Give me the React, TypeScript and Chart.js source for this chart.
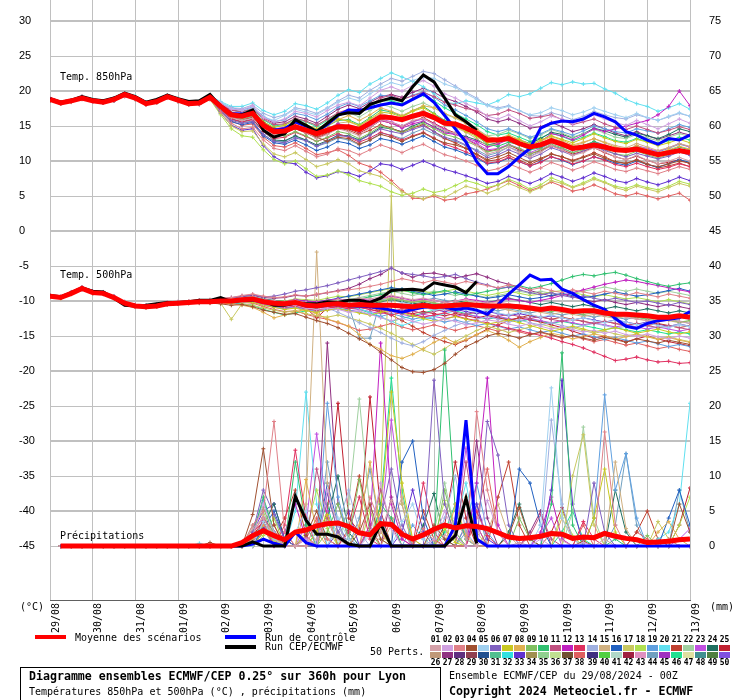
import React, { useEffect, useRef } from 'react';
import { Chart, registerables } from 'chart.js';

Chart.register(...registerables);

const DATE_LABELS = ['29/08','30/08','31/08','01/09','02/09','03/09','04/09','05/09','06/09','07/09','08/09','09/09','10/09','11/09','12/09','13/09'];
const T_TICKS = [30,25,20,15,10,5,0,-5,-10,-15,-20,-25,-30,-35,-40,-45];
const MM_TICKS = [75,70,65,60,55,50,45,40,35,30,25,20,15,10,5,0];
const STEP_HOURS = 6;

const MEMBER_COLORS = ['#d4a0a8','#d0a0e0','#e08088','#a05030','#a0d0f0','#8060c0','#c8c820','#e0b050','#80c060','#30c070','#c05080','#c020c0','#e03060','#a0b0e0','#d0b080','#2060c0','#c8c860','#b0e050','#60a0e0','#60e0f0','#c04030','#a0d0a0','#c050e0','#207060','#c02030',
'#c09878','#903080','#603080','#904050','#205090','#50c090','#30e0e0','#6030d0','#a09050','#90d090','#c0e090','#705030','#e06060','#403080','#50d040','#b0d8c8','#a02040','#e090c0','#70a0c0','#a030c0','#20e090','#e0e0a0','#409090','#508040','#8050e0'];

const MEMBER_IDS = [1,2,3,4,5,6,7,8,9,10,11,12,13,14,15,16,17,18,19,20,21,22,23,24,25,33,38,27,44,46];

const T850_MEAN = [18.8,18.3,18.6,19.0,18.6,18.4,18.8,19.5,19.0,18.2,18.5,19.2,18.7,18.2,18.3,19.1,17.8,16.6,16.4,16.8,15.1,14.2,14.3,14.9,14.4,13.9,14.4,14.9,14.9,14.5,15.4,16.3,16.2,15.9,16.4,16.8,16.2,15.4,15.3,14.7,14.0,13.0,13.0,13.2,12.5,12.0,12.3,12.9,12.4,11.8,12.0,12.3,12.0,11.6,11.5,11.7,11.3,10.9,11.2,11.5,11.2];
const T850_CTRL = [18.9,18.3,18.6,19.1,18.7,18.5,18.9,19.6,19.1,18.3,18.6,19.3,18.8,18.3,18.4,19.3,17.9,16.8,16.7,17.0,15.0,14.4,14.6,15.6,15.0,14.2,15.2,16.5,17.3,17.2,17.6,18.0,18.3,18.0,18.8,19.6,18.4,16.5,14.6,12.7,9.9,8.2,8.2,9.2,10.6,11.8,14.7,15.4,15.7,15.6,16.0,16.8,16.3,15.6,14.2,13.7,13.0,12.4,13.2,13.0,13.7];
const T850_CEP = [18.9,18.4,18.7,19.2,18.8,18.6,19.0,19.7,19.2,18.4,18.8,19.4,18.9,18.5,18.6,19.5,17.8,16.6,16.6,17.3,14.4,13.4,13.9,15.9,15.1,14.2,15.4,16.6,16.9,16.8,18.1,18.6,19.0,18.6,20.6,22.3,21.3,19.0,16.6,15.6,14.4];

const T500_MEAN = [-9.3,-9.5,-8.9,-8.2,-8.8,-8.9,-9.5,-10.3,-10.7,-10.8,-10.7,-10.4,-10.3,-10.2,-10.1,-10.1,-10.0,-10.0,-9.8,-9.7,-10.1,-10.3,-10.4,-10.2,-10.6,-10.7,-10.5,-10.4,-10.6,-10.5,-10.6,-10.6,-10.6,-10.7,-10.8,-10.6,-10.8,-10.7,-10.6,-10.5,-10.6,-10.7,-10.7,-10.7,-10.8,-11.0,-11.2,-11.0,-11.2,-11.5,-11.4,-11.4,-11.7,-11.9,-11.9,-12.0,-12.1,-12.3,-12.3,-12.1,-12.3];
const T500_CTRL = [-9.3,-9.5,-8.9,-8.2,-8.8,-8.9,-9.5,-10.3,-10.7,-10.8,-10.7,-10.4,-10.3,-10.2,-10.1,-10.1,-10.0,-10.0,-9.8,-9.8,-10.2,-10.4,-10.5,-10.3,-10.7,-10.8,-10.6,-10.5,-10.7,-10.7,-10.8,-11.0,-11.3,-11.6,-11.2,-10.9,-10.7,-10.9,-11.2,-11.0,-11.3,-11.9,-10.5,-9.0,-7.7,-6.3,-7.0,-6.9,-8.3,-8.9,-9.8,-10.6,-11.2,-12.5,-13.6,-13.9,-13.2,-12.8,-12.6,-12.4,-11.5];
const T500_CEP = [-9.2,-9.4,-8.8,-8.1,-8.6,-8.7,-9.6,-10.6,-10.7,-10.6,-10.4,-10.2,-10.2,-10.1,-9.9,-9.9,-9.5,-10.1,-9.9,-9.8,-10.0,-10.6,-10.6,-10.3,-10.4,-10.4,-10.1,-10.2,-9.9,-9.9,-10.2,-9.6,-8.5,-8.4,-8.3,-8.5,-7.4,-7.7,-8.0,-8.8,-7.2];

const PRECIP_MEAN = [null,0,0,0,0,0,0,0,0,0,0,0,0,0,0,0,0,0,0.5,1.5,2.2,1.5,0.9,2.0,2.3,2.9,3.2,3.3,2.8,1.9,1.6,3.2,3.1,1.7,1.0,1.6,2.4,3.0,2.6,2.9,2.8,2.5,1.9,1.3,1.1,1.2,1.4,1.8,1.7,1.1,1.3,1.2,1.8,1.4,1.1,0.9,0.5,0.6,0.7,0.9,1.0];
const PRECIP_CTRL = [null,0,0,0,0,0,0,0,0,0,0,0,0,0,0,0,0,0,0,0.3,1.0,0.4,0,2.0,0.5,0,0,0,0,0,0,0,0,0,0,0,0,0,3.0,18.0,1.0,0,0,0,0,0,0,0,0,0,0,0,0,0,0,0,0,0,0,0,0];
const PRECIP_CEP = [null,0,0,0,0,0,0,0,0,0,0,0,0,0,0,0,0,0,0,0.6,0,0,0,7.1,3.7,1.7,1.7,1.3,0.3,0,0,3.2,0,0,0,0,0,0,1.5,6.8,0.4];

const T850_MEMBERS = [
[19.0,18.4,18.7,19.2,18.7,18.5,18.9,19.7,19.1,18.3,18.6,19.4,18.8,18.3,18.5,19.3,17.6,16.2,15.8,16.1,14.6,13.8,14.0,14.9,14.1,13.2,13.8,14.6,14.2,13.6,14.8,15.9,15.5,15.0,15.8,16.1,15.2,14.3,14.0,13.1,12.2,11.0,11.4,12.0,11.2,10.6,11.3,12.2,11.6,10.8,11.2,11.9,11.3,10.6,10.2,10.8,10.1,9.6,10.0,10.5,10.0],
[18.7,18.2,18.6,19.1,18.5,18.4,18.7,19.4,18.9,18.1,18.4,19.0,18.6,18.1,18.2,19.0,18.2,17.4,17.3,17.9,16.2,15.6,16.0,17.1,16.8,16.3,17.2,18.0,18.4,17.9,19.0,20.1,20.6,20.0,20.8,21.5,20.7,19.6,19.0,18.2,17.5,16.4,16.0,16.6,15.8,15.0,15.6,16.4,16.0,15.3,15.9,16.6,16.0,15.5,15.1,15.8,15.2,14.6,15.3,16.0,15.4],
[18.9,18.3,18.4,18.8,18.5,18.3,18.6,19.2,18.8,18.0,18.3,19.0,18.5,18.1,18.2,18.8,17.0,15.4,14.6,14.8,13.0,11.8,11.5,12.2,11.4,10.6,11.0,11.8,11.5,10.9,11.6,12.3,11.8,11.2,11.9,12.4,11.6,10.9,10.5,10.0,9.4,8.6,8.9,9.6,9.0,8.4,9.0,9.8,9.3,8.7,9.2,9.9,9.4,8.8,8.5,9.0,8.6,8.2,8.7,9.2,8.8],
[18.6,18.2,18.5,18.9,18.6,18.3,18.7,19.4,19.0,18.3,18.5,19.1,18.6,18.2,18.2,19.0,17.5,16.6,16.5,17.0,15.5,14.6,14.2,14.8,14.3,13.4,12.8,13.4,13.2,12.4,13.0,13.8,13.4,12.8,13.5,14.0,13.2,12.6,12.3,11.8,11.0,10.2,10.6,11.2,10.5,9.8,10.4,11.0,10.6,10.0,10.5,11.0,10.4,9.9,9.7,10.1,9.5,9.2,9.6,10.0,9.7],
[18.9,18.4,18.7,19.1,18.8,18.5,18.9,19.6,19.2,18.4,18.7,19.3,18.9,18.4,18.5,19.2,18.4,17.5,17.2,17.6,16.3,15.8,16.5,17.4,17.0,16.6,17.5,18.4,19.0,18.6,19.6,20.5,21.2,20.8,21.5,22.0,21.8,21.0,20.5,19.6,18.8,17.9,17.4,17.8,17.2,16.6,16.9,17.6,17.2,16.6,17.0,17.6,17.1,16.6,16.2,16.8,16.2,15.8,16.4,16.9,16.4],
[18.7,18.3,18.6,18.9,18.5,18.3,18.6,19.3,18.9,18.2,18.4,19.1,18.6,18.1,18.1,18.9,17.2,15.8,15.4,15.6,13.8,12.8,12.6,13.3,12.9,12.1,12.8,13.6,13.5,12.9,13.7,14.6,14.2,13.9,14.5,15.0,14.2,13.4,13.0,12.3,11.4,10.5,10.9,11.6,11.0,10.4,11.0,11.9,11.4,10.8,11.4,12.1,11.5,11.0,10.6,11.1,10.7,10.3,10.7,11.3,10.8],
[18.8,18.2,18.5,18.9,18.6,18.4,18.7,19.5,18.9,18.2,18.4,19.2,18.7,18.2,18.3,19.0,17.8,16.9,16.7,17.2,15.6,14.8,15.1,15.8,15.2,14.6,15.4,16.0,15.7,15.1,16.0,17.0,16.8,16.3,17.1,17.6,16.7,15.6,15.0,14.2,13.5,12.6,12.9,13.5,13.0,12.3,13.0,13.6,13.1,12.6,13.2,13.9,13.3,12.8,12.5,13.1,12.7,12.2,12.6,13.1,12.6],
[18.9,18.3,18.7,19.1,18.7,18.5,18.8,19.6,19.1,18.2,18.6,19.3,18.8,18.3,18.4,19.2,18.0,16.8,16.4,16.7,14.8,14.2,14.5,15.4,14.9,14.2,15.0,15.9,16.5,15.8,16.6,17.6,17.1,16.5,17.2,17.9,17.6,16.8,16.2,15.4,14.5,13.5,13.2,13.7,13.1,12.4,12.8,13.5,13.0,12.3,12.7,13.2,12.6,12.0,11.6,12.2,11.6,11.1,11.6,12.1,11.7],
[18.8,18.4,18.6,19.0,18.6,18.4,18.8,19.4,19.0,18.3,18.5,19.2,18.7,18.2,18.3,19.0,17.6,16.4,16.0,16.4,14.9,13.9,13.6,14.2,13.6,12.8,13.4,14.2,13.9,13.2,14.0,15.0,14.6,14.0,14.8,15.4,14.6,13.8,13.4,12.8,12.2,11.3,11.6,12.3,11.8,11.0,11.6,12.4,11.9,11.2,11.6,12.2,11.7,11.0,10.8,11.4,10.9,10.4,10.9,11.4,11.0],
[18.7,18.3,18.6,19.0,18.7,18.4,18.8,19.5,19.0,18.2,18.5,19.1,18.7,18.2,18.3,19.1,17.9,16.5,16.3,16.9,15.2,14.3,14.6,15.5,15.0,14.3,15.0,15.8,15.9,15.2,16.2,17.3,17.0,16.4,17.2,17.8,16.8,15.8,15.4,14.6,13.6,12.4,12.1,12.7,12.3,11.6,11.9,12.7,12.3,11.7,12.2,12.8,12.2,11.6,11.4,12.0,11.4,11.0,11.5,12.0,11.6],
[18.8,18.3,18.6,18.9,18.6,18.4,18.7,19.4,19.0,18.2,18.5,19.2,18.8,18.2,18.3,19.1,18.2,17.3,17.0,17.5,16.0,15.2,15.3,16.1,15.7,15.1,16.0,16.9,17.4,16.9,17.9,19.0,19.4,18.8,19.3,19.8,19.2,18.4,18.0,17.5,17.2,16.5,16.7,17.3,16.8,16.1,16.3,16.6,15.9,15.2,15.6,16.0,15.3,14.8,14.5,15.0,14.5,14.0,14.4,14.9,14.5],
[18.9,18.4,18.7,19.2,18.7,18.5,18.9,19.6,19.1,18.3,18.6,19.3,18.8,18.3,18.4,19.2,18.0,16.7,16.6,17.0,15.4,14.6,14.8,15.5,14.9,14.1,14.5,15.3,15.0,14.3,15.0,15.8,15.4,14.7,15.3,15.7,14.8,14.0,13.8,13.3,12.8,12.0,12.4,13.1,12.6,12.0,12.8,13.9,13.6,13.0,13.7,14.6,14.2,14.6,15.0,15.4,15.8,16.6,17.8,20.0,17.9],
[18.7,18.2,18.5,18.9,18.5,18.3,18.7,19.4,18.9,18.1,18.4,19.0,18.6,18.1,18.2,18.9,17.3,16.0,15.6,15.9,14.2,13.2,13.4,14.1,13.5,12.8,13.3,13.9,13.4,12.7,13.3,14.1,13.6,13.0,13.6,14.1,13.3,12.4,11.9,11.3,10.6,9.7,9.9,10.5,9.9,9.3,9.8,10.6,10.2,9.6,10.0,10.6,10.1,9.5,9.2,9.7,9.2,8.8,9.1,9.6,9.2],
[18.9,18.4,18.6,19.1,18.7,18.4,18.9,19.6,19.1,18.3,18.6,19.3,18.8,18.3,18.4,19.2,18.3,17.6,17.5,18.0,16.8,16.2,16.6,17.6,17.3,16.8,17.6,18.6,19.4,19.0,20.1,21.0,21.8,21.4,22.1,22.8,22.5,21.6,20.7,19.8,19.0,18.0,17.6,17.9,17.2,16.5,16.4,16.9,16.5,15.9,16.4,17.1,16.6,16.2,16.0,16.6,16.2,15.8,16.3,16.8,16.4],
[18.8,18.3,18.6,19.0,18.6,18.4,18.8,19.5,19.0,18.2,18.5,19.2,18.7,18.2,18.3,19.0,17.7,16.6,16.2,16.5,15.0,14.0,14.2,15.0,14.6,13.9,14.6,15.4,15.6,15.0,15.9,16.8,16.4,15.8,16.6,17.2,16.4,15.4,14.8,14.1,13.2,12.2,12.5,13.2,12.7,12.0,12.5,13.3,12.8,12.1,12.6,13.2,12.7,12.2,11.9,12.5,12.0,11.5,11.9,12.5,12.1],
[18.7,18.3,18.6,19.0,18.6,18.3,18.7,19.4,18.9,18.2,18.4,19.1,18.6,18.1,18.2,19.0,17.1,15.6,15.2,15.5,13.6,12.6,12.4,13.0,12.3,11.5,12.0,12.8,12.5,11.8,12.3,13.2,12.9,12.4,13.0,13.6,12.8,12.0,11.6,11.0,10.4,9.6,9.8,10.4,9.9,9.3,9.9,10.6,10.1,9.5,10.0,10.6,10.2,9.7,9.4,10.0,9.5,9.1,9.6,10.2,9.8],
[18.8,18.3,18.5,18.9,18.6,18.4,18.7,19.4,18.9,18.1,18.4,19.1,18.6,18.1,18.2,19.0,16.9,15.0,14.2,14.3,12.4,11.0,10.6,11.2,10.2,9.2,9.6,10.2,9.6,8.6,8.2,7.8,6.8,5.6,5.0,4.6,5.2,4.8,5.6,6.4,6.0,5.4,6.0,6.8,6.2,5.6,6.2,7.2,6.8,6.2,6.7,7.4,6.9,6.2,5.8,6.4,6.0,5.6,6.2,6.8,6.4],
[18.7,18.2,18.5,18.9,18.5,18.3,18.6,19.3,18.8,18.1,18.3,19.0,18.5,18.0,18.1,18.8,16.6,14.6,13.6,13.4,11.6,10.2,9.6,10.0,8.9,7.8,8.0,8.6,8.0,7.2,6.8,6.4,5.6,5.1,5.4,6.0,5.5,5.8,6.5,7.2,6.8,6.2,6.6,7.4,6.8,6.0,6.6,7.6,7.0,6.3,6.9,7.6,7.0,6.4,6.1,6.6,6.2,5.9,6.4,7.1,6.7],
[18.8,18.4,18.7,19.1,18.7,18.5,18.8,19.5,19.1,18.3,18.6,19.3,18.8,18.3,18.4,19.2,18.3,17.6,17.3,17.7,16.4,15.6,15.9,16.8,16.5,15.9,16.7,17.7,18.3,17.8,18.6,19.4,19.2,18.7,19.4,19.9,19.1,18.0,17.3,16.5,15.6,14.6,14.2,14.6,14.0,13.4,13.9,14.6,14.2,13.7,14.3,15.0,14.6,14.2,14.0,14.6,14.3,14.0,14.6,15.2,14.8],
[18.9,18.4,18.7,19.2,18.8,18.5,18.9,19.7,19.2,18.4,18.7,19.4,18.9,18.4,18.5,19.3,18.5,17.8,17.8,18.3,17.2,16.6,17.1,18.2,17.9,17.4,18.3,19.4,20.2,19.8,21.0,21.8,22.6,22.0,21.4,20.6,19.6,18.4,18.2,18.6,18.3,18.0,18.6,19.5,19.2,19.6,20.4,21.2,20.9,21.3,21.0,21.1,20.3,19.7,18.8,18.2,17.8,17.1,17.6,18.2,17.4],
[18.7,18.2,18.5,18.9,18.5,18.3,18.7,19.4,18.9,18.1,18.4,19.1,18.6,18.1,18.2,18.9,17.4,16.2,15.9,16.2,14.6,13.6,13.9,14.7,14.2,13.5,14.0,14.7,14.4,13.8,14.4,15.2,14.7,14.1,14.7,15.2,14.2,13.2,12.6,11.8,10.9,10.0,10.2,10.8,10.1,9.5,10.2,11.0,10.6,10.1,10.6,11.2,10.6,9.9,9.6,10.2,9.6,9.0,9.3,9.7,9.2],
[18.8,18.3,18.6,19.1,18.7,18.4,18.8,19.5,19.0,18.2,18.5,19.2,18.7,18.2,18.4,19.1,17.8,16.8,16.6,17.0,15.6,14.8,15.2,16.1,15.7,15.1,15.9,16.8,16.9,16.3,17.2,18.1,17.7,17.1,17.8,18.3,17.6,16.7,16.1,15.4,14.6,13.6,13.8,14.4,13.9,13.2,13.7,14.5,14.0,13.4,13.9,14.5,14.0,13.4,13.2,13.8,13.3,12.9,13.4,13.9,13.5],
[18.8,18.4,18.6,19.0,18.7,18.4,18.8,19.5,19.0,18.3,18.5,19.2,18.7,18.2,18.3,19.1,17.6,16.3,15.9,16.3,14.5,13.5,13.9,14.8,14.4,13.7,14.4,15.2,15.0,14.3,15.1,16.0,15.6,15.0,15.6,16.0,15.3,14.5,13.8,13.2,12.5,11.6,11.8,12.4,11.8,11.2,11.8,12.6,12.1,11.5,12.1,12.8,12.3,11.8,11.5,12.2,11.8,11.4,11.9,12.5,12.0],
[18.7,18.3,18.5,19.0,18.6,18.3,18.7,19.4,18.9,18.2,18.4,19.1,18.6,18.2,18.2,19.0,17.5,16.0,15.6,16.0,14.2,13.0,12.9,13.6,13.0,12.3,12.9,13.7,13.6,13.0,13.8,14.8,14.6,14.2,15.0,15.6,14.9,14.2,13.9,13.5,13.0,12.3,12.6,13.4,13.0,12.5,13.2,14.1,13.8,13.3,13.9,14.7,14.3,13.8,13.4,14.0,13.6,13.2,13.8,14.6,14.2],
[18.9,18.3,18.6,19.1,18.6,18.4,18.9,19.6,19.0,18.3,18.5,19.3,18.8,18.2,18.4,19.2,17.9,16.8,16.5,16.8,15.1,14.2,14.1,14.6,14.0,13.3,13.9,14.7,14.6,14.0,14.8,15.8,15.4,14.9,15.6,16.2,15.4,14.6,14.0,13.2,12.3,11.4,11.7,12.3,11.6,11.0,11.5,12.2,11.6,11.0,11.4,11.9,11.2,10.6,10.2,10.7,10.1,9.6,9.8,10.2,9.6],
[18.7,18.2,18.5,18.9,18.5,18.3,18.6,19.3,18.8,18.1,18.3,19.0,18.5,18.1,18.1,18.9,16.8,15.1,14.4,14.6,12.2,10.6,9.8,9.6,8.4,7.6,7.9,8.5,8.3,7.8,8.6,9.6,9.4,8.8,9.4,10.0,9.4,8.8,8.4,7.9,7.4,6.8,7.1,7.8,7.3,6.8,7.4,8.2,7.7,7.1,7.6,8.3,7.8,7.2,6.9,7.5,7.0,6.6,7.1,7.7,7.2],
[18.8,18.3,18.6,19.0,18.6,18.4,18.7,19.4,18.9,18.2,18.4,19.1,18.6,18.2,18.2,19.0,17.2,15.7,15.1,15.3,13.4,12.2,12.0,12.6,11.8,10.9,11.2,11.6,10.8,9.7,9.2,8.4,7.2,5.8,4.7,4.6,5.0,4.4,4.6,5.3,5.6,6.0,6.6,7.2,6.5,5.8,6.3,7.0,6.4,5.7,6.0,6.6,6.0,5.3,5.0,5.4,5.0,4.6,5.0,5.4,4.4],
[18.8,18.3,18.6,19.0,18.6,18.4,18.8,19.5,19.0,18.2,18.5,19.2,18.7,18.2,18.3,19.1,18.1,17.2,17.1,17.6,16.2,15.4,15.6,16.4,16.0,15.4,16.4,17.4,18.0,17.5,18.4,19.2,19.5,19.1,19.8,20.4,19.8,19.0,18.5,17.8,17.0,16.0,15.6,16.0,15.4,14.7,14.9,15.5,14.9,14.2,14.6,15.2,14.6,14.0,13.6,14.2,13.6,13.1,13.6,14.1,13.7],
[18.7,18.2,18.6,19.0,18.6,18.3,18.7,19.4,18.9,18.2,18.4,19.1,18.6,18.1,18.2,19.0,17.4,16.0,15.5,15.7,13.8,12.8,12.8,13.5,12.9,12.1,12.6,13.3,13.0,12.3,13.0,14.0,13.7,13.2,14.0,14.6,13.9,13.2,12.8,12.2,11.6,10.8,11.2,12.0,11.4,10.7,11.4,12.2,11.8,11.2,11.8,12.6,12.2,11.7,11.5,12.1,11.7,11.3,11.8,12.4,12.0],
[18.9,18.4,18.7,19.2,18.8,18.5,18.9,19.7,19.2,18.3,18.6,19.4,18.9,18.3,18.5,19.3,18.3,17.3,17.0,17.4,15.9,15.0,15.2,16.0,15.6,14.9,15.8,16.8,17.3,16.8,17.8,18.6,18.6,18.2,18.9,19.4,18.6,17.6,16.8,16.0,15.2,14.2,13.7,14.0,13.4,12.8,13.3,14.0,13.5,12.9,13.4,14.0,13.5,12.9,12.7,13.2,12.8,12.4,12.9,13.4,13.0]
];

const T500_MEMBERS = [
[-9.2,-9.4,-8.8,-8.0,-8.7,-8.8,-9.4,-10.1,-10.5,-10.6,-10.5,-10.2,-10.1,-10.0,-9.9,-9.9,-9.8,-9.7,-9.5,-9.4,-9.8,-10.0,-10.1,-9.9,-10.2,-10.3,-10.0,-9.8,-9.9,-9.6,-9.7,-9.4,-9.2,-9.5,-9.8,-9.6,-9.9,-10.2,-10.0,-9.8,-10.1,-10.3,-10.1,-10.4,-10.6,-10.9,-11.2,-10.9,-11.3,-11.6,-11.5,-11.8,-12.1,-12.0,-12.3,-12.6,-12.8,-13.0,-12.7,-12.9,-13.2],
[-9.4,-9.6,-9.0,-8.4,-8.9,-9.0,-9.6,-10.4,-10.8,-10.9,-10.8,-10.5,-10.4,-10.3,-10.2,-10.2,-10.1,-10.2,-10.0,-9.9,-10.4,-10.6,-10.8,-10.6,-11.0,-11.2,-11.0,-11.2,-11.6,-11.4,-11.9,-12.4,-12.8,-12.5,-12.9,-13.3,-13.0,-12.6,-12.9,-13.4,-13.1,-12.7,-12.9,-13.3,-13.6,-13.2,-13.6,-14.0,-13.7,-14.1,-14.4,-14.2,-14.6,-14.3,-14.8,-15.0,-14.7,-15.1,-15.4,-15.0,-15.3],
[-9.2,-9.4,-8.8,-8.1,-8.7,-8.8,-9.4,-10.2,-10.6,-10.7,-10.6,-10.3,-10.2,-10.0,-9.9,-9.8,-9.6,-9.5,-9.2,-9.0,-9.3,-9.5,-9.4,-9.1,-9.3,-9.0,-8.8,-8.6,-8.4,-8.2,-7.9,-7.6,-7.2,-6.8,-7.1,-7.4,-7.0,-7.3,-7.6,-7.2,-7.5,-7.8,-8.1,-7.7,-8.0,-8.4,-8.1,-8.5,-8.8,-8.4,-8.7,-9.0,-8.6,-8.9,-9.2,-8.8,-9.1,-9.4,-9.0,-9.3,-9.6],
[-9.3,-9.5,-8.9,-8.3,-8.9,-9.0,-9.6,-10.4,-10.8,-10.9,-10.8,-10.5,-10.4,-10.3,-10.3,-10.3,-10.4,-10.6,-10.5,-10.8,-11.3,-11.6,-11.9,-11.8,-12.3,-12.8,-13.2,-13.8,-14.6,-15.4,-16.2,-17.3,-18.4,-19.5,-20.1,-20.2,-19.8,-18.9,-17.6,-16.5,-15.8,-15.0,-14.6,-14.9,-15.3,-14.8,-14.4,-14.8,-15.2,-14.9,-15.3,-15.6,-15.2,-15.5,-15.9,-15.4,-15.7,-16.0,-15.6,-15.9,-16.2],
[-9.3,-9.5,-8.9,-8.2,-8.8,-8.9,-9.5,-10.3,-10.7,-10.8,-10.7,-10.4,-10.3,-10.2,-10.1,-10.0,-9.9,-9.8,-9.7,-9.5,-9.9,-10.2,-10.4,-10.1,-10.3,-10.5,-10.3,-10.1,-10.4,-10.2,-10.5,-10.8,-10.6,-10.2,-10.5,-10.9,-11.3,-11.1,-10.8,-11.2,-11.6,-11.3,-11.7,-12.0,-11.6,-11.9,-12.3,-12.0,-12.4,-12.7,-12.4,-12.8,-13.1,-12.7,-13.0,-13.4,-13.1,-13.5,-13.8,-13.4,-13.7],
[-9.2,-9.4,-8.7,-8.0,-8.6,-8.7,-9.3,-10.1,-10.5,-10.6,-10.5,-10.2,-10.1,-10.0,-9.9,-9.9,-9.7,-9.5,-9.3,-9.1,-9.4,-9.3,-9.0,-8.6,-8.4,-8.1,-7.8,-7.4,-7.0,-6.6,-6.2,-5.8,-5.3,-6.0,-6.2,-6.4,-6.7,-6.5,-6.2,-6.8,-7.3,-7.7,-8.2,-8.0,-8.4,-8.8,-9.1,-8.8,-9.2,-9.5,-9.3,-9.6,-9.9,-9.6,-9.9,-10.2,-10.0,-10.3,-10.6,-10.2,-10.5],
[-9.4,-9.6,-9.0,-8.3,-8.9,-9.0,-9.6,-10.4,-10.8,-10.9,-10.8,-10.5,-10.4,-10.3,-10.2,-10.2,-10.2,-10.3,-10.1,-10.2,-10.6,-10.9,-11.2,-11.0,-11.4,-11.6,-11.3,-11.1,-11.4,-11.7,-12.0,-11.6,-11.3,-11.7,-12.1,-12.5,-12.9,-12.6,-12.2,-12.6,-12.9,-13.3,-13.0,-12.7,-13.1,-13.5,-13.9,-14.3,-14.0,-13.6,-14.0,-14.4,-14.1,-13.8,-14.2,-14.6,-14.3,-14.0,-14.4,-14.7,-14.4],
[-9.3,-9.5,-8.9,-8.2,-8.8,-8.9,-9.5,-10.3,-10.7,-10.8,-10.7,-10.4,-10.3,-10.2,-10.1,-10.1,-10.2,-10.4,-10.6,-10.9,-11.6,-12.4,-12.0,-11.5,-11.2,-11.8,-12.6,-13.0,-13.6,-14.8,-16.2,-16.9,-17.8,-18.2,-17.6,-16.8,-15.9,-15.2,-16.0,-15.5,-14.8,-14.2,-14.8,-15.6,-16.6,-15.8,-15.2,-14.6,-14.9,-15.4,-15.1,-14.7,-15.0,-15.4,-15.1,-14.8,-15.1,-15.5,-15.2,-15.6,-15.9],
[-9.2,-9.5,-8.9,-8.1,-8.8,-8.9,-9.5,-10.2,-10.6,-10.7,-10.6,-10.3,-10.2,-10.1,-10.0,-10.0,-9.9,-9.8,-9.6,-9.5,-9.9,-10.1,-10.2,-10.0,-10.3,-10.4,-10.1,-9.9,-10.1,-9.9,-10.2,-10.0,-9.7,-9.9,-10.2,-10.0,-10.3,-10.6,-10.4,-10.1,-10.4,-10.7,-10.5,-10.8,-11.1,-10.9,-11.2,-11.5,-11.3,-11.6,-11.9,-11.7,-12.0,-12.3,-12.0,-12.3,-12.6,-12.4,-12.7,-13.0,-12.8],
[-9.3,-9.5,-8.9,-8.2,-8.8,-8.9,-9.5,-10.3,-10.7,-10.8,-10.7,-10.4,-10.3,-10.2,-10.1,-10.1,-10.0,-9.9,-9.8,-9.7,-10.1,-10.3,-10.5,-10.3,-10.5,-10.6,-10.4,-10.2,-10.0,-9.7,-9.4,-9.1,-8.7,-8.4,-8.8,-9.1,-8.8,-8.5,-8.9,-9.2,-8.9,-8.6,-8.3,-8.0,-7.8,-8.2,-7.9,-7.5,-7.0,-6.5,-6.2,-6.4,-6.1,-5.9,-6.3,-6.8,-7.2,-7.6,-7.9,-7.6,-7.4],
[-9.4,-9.5,-9.0,-8.3,-8.9,-9.0,-9.6,-10.4,-10.8,-10.9,-10.8,-10.5,-10.4,-10.3,-10.2,-10.1,-10.0,-10.1,-9.9,-9.8,-10.2,-10.5,-10.6,-10.4,-10.7,-10.9,-10.6,-10.5,-10.8,-10.6,-10.9,-11.2,-11.5,-11.1,-11.4,-11.8,-11.5,-11.2,-11.6,-11.9,-11.6,-11.9,-12.2,-11.9,-12.2,-12.5,-12.2,-12.6,-12.9,-12.6,-12.9,-13.2,-12.9,-13.2,-13.5,-13.2,-13.5,-13.8,-13.5,-13.8,-14.1],
[-9.2,-9.4,-8.8,-8.1,-8.7,-8.8,-9.4,-10.2,-10.6,-10.7,-10.6,-10.3,-10.2,-10.1,-10.0,-10.0,-9.9,-9.8,-9.6,-9.5,-9.8,-10.0,-10.1,-9.8,-10.0,-10.1,-9.9,-9.7,-9.9,-9.7,-9.9,-9.6,-9.3,-9.6,-9.9,-9.7,-9.9,-10.2,-10.0,-9.7,-9.9,-10.2,-10.0,-9.7,-9.9,-10.2,-9.9,-9.6,-9.2,-8.8,-8.4,-8.0,-7.6,-7.3,-7.0,-7.2,-7.5,-7.8,-8.1,-8.4,-8.7],
[-9.3,-9.5,-8.9,-8.2,-8.8,-8.9,-9.5,-10.3,-10.7,-10.8,-10.7,-10.4,-10.3,-10.2,-10.1,-10.1,-10.1,-10.2,-10.0,-10.0,-10.4,-10.7,-10.9,-10.7,-11.1,-11.3,-11.0,-10.8,-11.1,-10.9,-11.2,-11.6,-12.0,-11.6,-11.9,-12.3,-12.0,-11.7,-12.1,-12.5,-12.8,-13.1,-13.5,-13.9,-14.2,-14.6,-14.9,-15.3,-15.8,-16.2,-16.7,-17.3,-17.9,-18.5,-18.3,-18.0,-18.4,-18.7,-18.6,-18.9,-18.8],
[-9.3,-9.4,-8.9,-8.2,-8.8,-8.9,-9.5,-10.3,-10.7,-10.8,-10.7,-10.4,-10.3,-10.2,-10.1,-10.1,-10.0,-10.0,-9.8,-9.7,-10.0,-10.3,-10.5,-10.3,-10.6,-10.8,-11.0,-11.6,-12.3,-13.1,-13.8,-14.5,-15.3,-16.0,-16.4,-15.8,-14.9,-14.2,-13.5,-13.0,-12.6,-12.2,-12.6,-13.0,-12.7,-13.1,-13.4,-13.1,-13.5,-13.8,-13.5,-13.2,-13.5,-13.9,-13.6,-13.3,-13.6,-13.9,-13.6,-13.3,-13.6],
[-9.2,-9.5,-8.9,-8.1,-8.8,-8.9,-9.5,-10.3,-10.7,-10.8,-10.7,-10.4,-10.3,-10.2,-10.1,-10.1,-10.0,-9.9,-9.8,-9.7,-10.0,-10.2,-10.3,-10.1,-10.4,-10.6,-10.4,-10.2,-10.4,-10.2,-10.0,-9.7,-9.5,-9.8,-10.1,-9.9,-10.2,-10.5,-10.3,-10.6,-10.9,-11.2,-11.0,-11.3,-11.6,-11.3,-11.6,-11.9,-11.6,-11.9,-12.2,-11.9,-12.2,-12.5,-12.2,-12.5,-12.8,-12.5,-12.8,-13.1,-12.8],
[-9.3,-9.5,-8.9,-8.2,-8.8,-8.9,-9.5,-10.3,-10.7,-10.8,-10.7,-10.4,-10.3,-10.2,-10.1,-10.1,-10.0,-9.9,-9.7,-9.6,-9.9,-10.1,-10.2,-9.9,-10.1,-10.2,-9.9,-9.6,-9.3,-9.0,-8.7,-8.4,-8.1,-8.3,-8.6,-8.9,-9.2,-9.0,-8.7,-9.0,-9.3,-9.6,-9.4,-9.1,-9.4,-9.7,-9.5,-9.2,-8.9,-9.2,-9.5,-9.3,-9.0,-8.7,-9.0,-9.3,-9.1,-8.8,-8.5,-8.2,-8.6],
[-9.4,-9.6,-9.0,-8.3,-8.9,-9.0,-9.6,-10.4,-10.8,-10.9,-10.8,-10.5,-10.4,-10.3,-10.2,-10.2,-10.3,-12.6,-10.4,-10.6,-11.0,-11.3,-11.6,-11.4,-11.8,-12.1,-12.3,-12.0,-12.4,-12.8,-13.3,-13.9,-14.6,-15.4,-16.2,-17.0,-17.6,-16.8,-15.8,-15.0,-14.2,-13.6,-14.0,-14.5,-14.1,-13.7,-13.3,-13.7,-14.1,-13.8,-14.2,-14.6,-14.3,-14.7,-15.0,-14.7,-15.1,-15.4,-15.1,-15.5,-15.8],
[-9.2,-9.4,-8.8,-8.1,-8.7,-8.8,-9.4,-10.2,-10.6,-10.7,-10.6,-10.3,-10.2,-10.1,-10.0,-10.0,-9.9,-9.8,-9.6,-9.5,-9.8,-10.0,-10.0,-9.7,-9.8,-9.9,-9.6,-9.3,-9.4,-9.1,-8.8,-8.5,-8.2,-8.5,-8.8,-8.6,-8.9,-8.6,-8.3,-8.6,-8.9,-9.2,-8.9,-8.6,-8.9,-9.2,-9.0,-8.7,-8.5,-8.8,-9.1,-9.4,-9.1,-9.4,-9.7,-9.5,-9.8,-10.1,-9.8,-10.1,-10.4],
[-9.3,-9.5,-8.9,-8.2,-8.8,-8.9,-9.5,-10.3,-10.7,-10.8,-10.7,-10.4,-10.3,-10.2,-10.1,-10.1,-10.1,-10.2,-10.1,-10.0,-10.5,-10.8,-11.0,-10.8,-11.2,-11.4,-11.2,-11.0,-11.3,-11.6,-11.9,-12.2,-11.8,-12.2,-12.6,-12.3,-12.6,-13.0,-12.7,-13.1,-13.5,-13.2,-13.6,-14.0,-13.7,-14.1,-14.5,-14.2,-14.6,-15.0,-14.7,-15.1,-15.5,-15.2,-15.6,-16.0,-15.7,-16.1,-16.5,-16.2,-16.5],
[-9.3,-9.5,-9.0,-8.3,-8.9,-9.0,-9.6,-10.4,-10.8,-10.8,-10.7,-10.4,-10.3,-10.2,-10.1,-10.1,-10.0,-9.9,-9.8,-9.8,-10.2,-10.4,-10.6,-10.4,-10.7,-10.9,-10.7,-10.5,-10.8,-11.1,-11.6,-12.2,-12.9,-13.5,-13.0,-12.6,-12.2,-11.8,-11.4,-11.0,-10.7,-10.5,-10.8,-11.1,-10.8,-11.1,-11.4,-11.1,-11.4,-11.7,-11.4,-11.7,-12.0,-11.7,-12.0,-12.3,-12.0,-12.3,-12.6,-12.3,-12.6],
[-9.2,-9.4,-8.8,-8.1,-8.7,-8.8,-9.4,-10.2,-10.6,-10.7,-10.6,-10.3,-10.2,-10.1,-10.0,-10.0,-9.9,-9.8,-9.7,-9.6,-10.0,-10.2,-10.3,-10.1,-10.4,-10.5,-10.3,-10.1,-10.3,-10.5,-10.9,-11.4,-12.0,-12.8,-13.6,-14.5,-15.2,-15.8,-16.2,-15.6,-14.8,-14.0,-13.4,-12.8,-12.4,-12.0,-12.3,-12.6,-12.3,-12.6,-12.9,-13.2,-12.9,-13.2,-13.5,-13.2,-13.5,-13.2,-13.5,-13.8,-13.5],
[-9.4,-9.5,-9.0,-8.3,-8.9,-9.0,-9.6,-10.4,-10.8,-10.9,-10.8,-10.5,-10.4,-10.3,-10.2,-10.2,-10.1,-10.0,-9.9,-9.8,-10.2,-10.4,-10.5,-10.2,-10.4,-10.5,-10.2,-10.0,-9.8,-9.5,-9.2,-8.9,-8.6,-8.9,-9.2,-8.9,-8.6,-8.9,-9.2,-8.9,-9.2,-9.5,-9.2,-8.9,-8.6,-8.9,-8.6,-8.9,-9.2,-8.9,-8.6,-8.3,-8.0,-8.3,-8.6,-8.3,-8.6,-8.9,-8.6,-8.9,-9.2],
[-9.3,-9.5,-8.9,-8.2,-8.8,-8.9,-9.5,-10.3,-10.7,-10.8,-10.7,-10.4,-10.3,-10.2,-10.1,-10.1,-10.2,-10.3,-10.2,-10.1,-10.6,-10.9,-11.1,-10.9,-11.3,-11.5,-11.3,-11.1,-11.4,-11.2,-11.5,-11.8,-11.5,-11.9,-12.2,-11.9,-12.2,-12.5,-12.2,-11.9,-12.2,-12.5,-12.2,-12.5,-12.8,-12.5,-12.8,-13.1,-12.8,-13.1,-13.4,-13.1,-13.4,-13.7,-13.4,-13.7,-14.0,-13.7,-14.0,-14.3,-14.0],
[-9.2,-9.5,-8.8,-8.1,-8.7,-8.9,-9.4,-10.2,-10.6,-10.7,-10.6,-10.3,-10.2,-10.1,-10.0,-10.0,-9.8,-9.7,-9.5,-9.4,-9.7,-9.9,-10.0,-9.8,-10.0,-10.1,-9.9,-9.7,-9.9,-10.1,-10.4,-10.1,-9.8,-10.1,-10.4,-10.2,-10.5,-10.2,-9.9,-10.2,-10.5,-10.2,-9.9,-9.6,-9.9,-10.2,-10.5,-10.2,-10.5,-10.8,-10.5,-10.8,-11.1,-10.8,-11.1,-11.4,-11.1,-11.4,-11.7,-11.4,-11.7],
[-9.3,-9.5,-8.9,-8.2,-8.8,-8.9,-9.5,-10.3,-10.7,-10.8,-10.7,-10.4,-10.3,-10.2,-10.1,-10.1,-10.1,-10.2,-10.0,-9.9,-10.3,-10.6,-10.8,-10.6,-11.0,-12.4,-11.0,-10.8,-11.1,-10.9,-11.2,-11.5,-11.2,-11.5,-11.8,-11.5,-11.8,-12.1,-11.8,-12.1,-12.4,-12.1,-12.4,-12.7,-12.4,-12.7,-13.0,-13.4,-13.8,-14.3,-14.8,-15.3,-15.0,-15.4,-15.8,-15.4,-15.0,-15.4,-15.8,-16.1,-16.4],
[-9.3,-9.5,-8.9,-8.2,-8.8,-8.9,-9.5,-10.3,-10.7,-10.8,-10.7,-10.4,-10.3,-10.2,-10.1,-10.1,-10.0,-9.9,-9.8,-9.7,-10.1,-10.3,-10.4,-10.2,-10.5,-10.6,-10.4,-10.3,-10.5,-10.3,-10.6,-10.9,-10.6,-10.9,-11.2,-10.9,-11.2,-11.5,-11.2,-11.5,-11.8,-11.5,-11.8,-12.1,-11.8,-12.1,-12.4,-12.1,-12.4,-12.7,-12.4,-12.7,-13.0,-12.7,-13.0,-13.3,-13.0,-13.3,-13.6,-13.3,-13.6],
[-9.4,-9.6,-9.0,-8.3,-8.9,-9.0,-9.6,-10.4,-10.8,-10.9,-10.8,-10.5,-10.4,-10.3,-10.2,-10.2,-10.2,-10.3,-10.2,-10.3,-10.8,-11.2,-11.5,-11.4,-11.9,-12.3,-12.6,-13.1,-13.6,-14.2,-14.0,-13.6,-13.2,-13.7,-14.1,-13.8,-13.4,-13.8,-14.2,-13.8,-13.5,-13.9,-14.3,-14.0,-14.4,-14.8,-14.5,-14.9,-15.3,-15.0,-15.4,-15.8,-15.5,-15.9,-16.3,-16.0,-16.4,-16.8,-16.5,-16.9,-17.2],
[-9.2,-9.4,-8.8,-8.1,-8.7,-8.8,-9.4,-10.2,-10.6,-10.7,-10.6,-10.3,-10.2,-10.1,-10.0,-10.0,-9.8,-9.6,-9.4,-9.2,-9.5,-9.6,-9.5,-9.2,-9.3,-9.1,-8.8,-8.5,-8.2,-7.6,-6.8,-6.2,-5.3,-6.0,-6.6,-6.1,-6.0,-6.3,-6.7,-6.4,-6.1,-6.6,-7.2,-7.6,-8.0,-8.5,-8.9,-9.3,-9.0,-9.4,-9.8,-10.1,-9.8,-10.2,-10.5,-10.2,-10.5,-10.8,-10.5,-10.8,-11.1],
[-9.3,-9.5,-8.9,-8.2,-8.8,-8.9,-9.5,-10.3,-10.7,-10.8,-10.7,-10.4,-10.3,-10.2,-10.1,-10.1,-10.0,-10.0,-9.9,-9.8,-10.2,-10.4,-10.6,-10.4,-10.7,-10.9,-10.7,-10.5,-10.7,-15.3,-15.3,-9.8,-9.6,-9.9,-10.2,-9.9,-9.6,-9.9,-10.2,-10.5,-10.8,-11.1,-11.4,-11.1,-11.4,-11.7,-11.4,-11.7,-12.0,-11.7,-12.0,-12.3,-12.0,-12.3,-12.6,-12.3,-12.6,-12.9,-12.6,-12.9,-13.2],
[-9.3,-9.5,-8.9,-8.2,-8.8,-8.9,-9.5,-10.3,-10.7,-10.8,-10.7,-10.4,-10.3,-10.2,-10.1,-10.1,-10.1,-10.3,-10.4,-10.6,-11.2,-11.6,-12.0,-11.7,-11.4,-11.0,-10.8,-10.5,-10.8,-11.2,-11.7,-12.3,-12.9,-12.5,-12.1,-11.7,-11.3,-11.0,-11.4,-11.8,-12.2,-12.6,-12.3,-12.6,-12.9,-12.6,-12.9,-13.2,-12.9,-13.2,-13.5,-13.8,-14.1,-13.8,-14.1,-14.4,-14.1,-14.4,-14.7,-14.4,-14.7]
];

const PRECIP_MEMBERS = [
[null,0,0,0,0,0,0,0,0,0,0,0,0,0,0,0,0,0,0,2.5,4,1.2,0,0,0,1,3.5,1,0,0,0,2,6.5,2,0,0,0,1.5,4,1,0,0,0,0,0.5,0,0,2,0.8,0,0,0,1,0,0,0,0,0,0,0,0],
[null,0,0,0,0,0,0,0,0,0,0,0,0,0,0,0,0,0,0,1.5,6,2,0,0,1,0,8,3,0,0,1.5,9,2.5,0,0,0,1,5,1.5,0,0,6.5,2,0,0,0,1,0,0,0,0.5,0,0,0,0,0,0,0,0,0,0],
[null,0,0,0,0,0,0,0,0,0,0,0,0,0,0,0,0,0,0,3,5,17.8,2,0,0,3.5,1,0,0,0,7,3,0,0,0,2.5,0.8,0,0,0,19.2,8,2,0,0,0,0,0,0,0,0,0,16.3,3,0,0,0,0,1,0,0],
[null,0,0,0,0,0,0,0,0,0,0,0,0,0,0,0.5,0,0,0,4.5,13.9,3,0,0,1.5,5,1,0,0,2,6,1,0,0,0,0,3,1,0,0,0,0,0,1.5,5.5,1,0,0,0,0,0.7,0,0,0,0,0,0,0,0,6,2],
[null,0,0,0,0,0,0,0,0,0,0,0,0,0,0,0,0,0,0,0,3.5,1,0,2,5,0,0,4,1,0,0,0,0,3.5,6,1,0,0,0,0,0,0,0,0,0,0,3,22.6,4,1,0,0,0,0,0,0,0,0,0,0,0],
[null,0,0,0,0,0,0,0,0,0,0,0,0,0,0,0,0,0,0,2,8,4.5,1,0,0,0,7.5,2,0,0,0,4,11,3,0,0,23.7,6,1.5,0,0,17.8,13,3,0,0,0,0,0,0,0,9,2,0,0,0,0,0,0,0,0],
[null,0,0,0,0,0,0,0,0,0,0,0,0,0,0,0,0,0,0,0,2,0.8,0,0,0,2,4.5,0,0,0,0,5,22,9,1,0,0,2.5,0.5,0,0,0,0,0,0,0,0,0,0,0,0,4,11,2,0,0,0,0,0,0,0],
[null,0,0,0,0,0,0,0,0,0,0,0,0,0,0,0,0,0,0,1,3,1.5,0,0,9.5,2,0,0,0,3,12,2,0,0,0,0,0,0,6,1.5,0,0,0,0,0,0,0,0,4,1,0,0,0,0,0,0,0,2,3.5,1,0],
[null,0,0,0,0,0,0,0,0,0,0,0,0,0,0,0,0,0,0,2.5,5.5,1.5,0,0,0,0,2,6,1,9.5,2,0,0,0,0,0,0,8,2,0,0,0,0,0,4,1,0,0,0,0,0,0,0,0,0,0,1.5,0,0,0,0],
[null,0,0,0,0,0,0,0,0,0,0,0,0,0,0,0,0,0,0,1.5,7,2,0,12,3,0,0,0,0,0,0,6,4,0,0,0,0,28,5,1,0,0,0,0,0,0,0,6,27.6,3,0,0,0,1,0,0,0,0,0,0,0],
[null,0,0,0,0,0,0,0,0,0,0,0,0,0,0,0,0,0,0,0,4,2,0,0,0,11,4,0,0,0,2.5,8,3,0,0,0,0,0,0,12,3,0,0,0,0,1.5,4.5,1,0,0,0,0,0,0,0,0,0,0,0,0,0],
[null,0,0,0,0,0,0,0,0,0,0,0,0,0,0,0,0,0,0,1,3,0,2,6,1,0,0,0,0,0,3,29,6,1,0,0,0,0,0,0,9,24,3,0,0,0,2,7,1,0,0,0,0,0,0,0,0,0,0,0,0],
[null,0,0,0,0,0,0,0,0,0,0,0,0,0,0,0,0,0,0,2,3.5,0,3,13.7,4,0,0,0,2,7,1,0,0,0,0,9,2,0,0,0,5,1.5,0,0,0,0,0,0,0,0,3.5,1,0,0,0,0,0,0,0,0,0],
[null,0,0,0,0,0,0,0,0,0,0,0,0,0,0,0,0,0,0,0,2,1,0,0,0,0,0,3,8,2,0,0,0,0,0,0,0,4,10,2,0,0,0,0,0,0,0,18,6,1,0,0,0,0,0,0,0,0,0,0,0],
[null,0,0,0,0,0,0,0,0,0,0,0,0,0,0,0,0,0,0,1.5,4.5,1,0,0,6,42,9,1.5,0,0,0,0,3,7,1,0,0,0,0,0,0,2,6,1.5,0,0,0,0,0,0,0,0,0,12,2.5,0,0,0,0,0,0],
[null,0,0,0,0,0,0,0,0,0,0,0,0,0,0,0,0,0,0,0,2.5,5,1,0,0,0,9,3,0,0,0,0,0,12,15,4,0,0,0,0,0,0,0,0,11,9,3,0,0,0,0,0,0,0,0,0,0,0,4,8,3],
[null,0,0,0,0,0,0,0,0,0,0,0,0,0,0,0,0,0,0,1,2.5,0,0,0,0,0,4,2,0,0,0,8,50,6,0,0,0,0,2,7,2,0,0,0,0,0,0,0,0,10,15.9,3,0,0,0,0,0,3.5,1,0,0],
[null,0,0,0,0,0,0,0,0,0,0,0,0,0,0,0,0,0,0,0,1.5,4,0,0,2,8,2.5,0,0,0,5,2,0,0,0,0,1,6.5,1,0,0,0,0,0,0,0,0,0,5,1.5,0,0,0,0,0,0,0,0,0,3,7],
[null,0,0,0,0,0,0,0,0,0,0,0,0,0,0,0,0,0,0,2,6.5,2,0,0,0,0,20.4,7,1,0,0,0,0,0,3,1,0,0,0,3,9,2,0,0,0,0,0,0,0,0,0,4,21.6,8,13.2,4,0,0,0,0,0],
[null,0,0,0,0,0,0,0,0,0,0,0,0,0,0.4,0,0,0,0.5,1.5,3,0,0,5,22,6,0,0,0,0,2,4,0,0,0,0,0,0,3,9,1,0,0,0,0,0,0,0,0,0,0,0,0,0,0,0,0,1,2,6,20.4],
[null,0,0,0,0,0,0,0,0,0,0,0,0,0,0,0,0,0,0,0,2,1,4,8,1.5,0,0,0,2.5,10,3,0,0,0,0,5,1,0,0,0,0,0,7,12,3,0,0,0,0,0,0,0,0,0,0,2,5,1,0,0,0],
[null,0,0,0,0,0,0,0,0,0,0,0,0,0,0,0,0,0,0,3,5,1,0,0,0,0,0,0,6,21,5,1,0,0,0,0,2,9,2,0,0,0,0,0,0,0,0,0,0,5,17,4,0,0,0,0,0,0,0,0,0],
[null,0,0,0,0,0,0,0,0,0,0,0,0,0,0,0,0,0,0,2,4,1.5,0,0,3,16,5,0,0,0,0,3,18,6,0,0,0,0,2.5,14,3,0,0,0,0,0,1.5,4,0,0,0,0,0,0,0,0,0,0,0,1,2.5],
[null,0,0,0,0,0,0,0,0,0,0,0,0,0,0,0,0,0,0,0,3,6,1,0,0,0,4,10,2,0,0,0,0,0,0,3,7.5,1,0,0,0,0,0,2,6,1,0,0,0,0,0,0,0,8,2,0,0,0,0,0,0],
[null,0,0,0,0,0,0,0,0,0,0,0,0,0,0,0,0,0,0,1.5,3.5,1,0,0,0,0,5,20.4,4,2,21.3,5,0,0,0,0,0,3,12,4,0,0,0,0,0,0,0,2,5.5,1,0,0,0,0,0,0,0,0,0,3,8.3],
[null,0,0,0,0,0,0,0,0,0,0,0,0,0,0,0,0,0,0,2,5,6,1,0,0,0,0,2,5,0,0,0,0,2,8,2,0,0,0,0,6,1,0,0,0,0,0,8,23.7,6,0,0,0,0,0,0,0,0,0,0,0],
[null,0,0,0,0,0,0,0,0,0,0,0,0,0,0,0,0,0,0,0,2,3,0,0,1,4,0,0,0,0,0,0,4,1,0,0,0,0,0,0,4,11,2,0,0,0,0,0,0,0,3,0,0,0,0,2,1,0,0,0,0],
[null,0,0,0,0,0,0,0,0,0,0,0,0,0,0,0,0,0,0,1,2.5,0,2,0,0,0,29,6,1,0,0,0,7,2,0,0,0,0,0,3,15,4,0,0,0,2,5,0,0,0,0,0,0,0,0,0,0,0,0,0,0],
[null,0,0,0,0,0,0,0,0,0,0,0,0,0,0,0,0,0,0,0,2,4,1,0,0,0,12,3.5,0,4,11,2,0,0,0,0,0,0,0,2,6,0,0,0,0,0,0,0,0,0,0,0,0,3,13.2,3,0,0,0,8,2],
[null,0,0,0,0,0,0,0,0,0,0,0,0,0,0,0,0,0,0,1.5,3,1,0,0,0,2,6,0,0,0,0,6,24,8,0,0,0,2,6,1,0,0,0,0,0,0,0,0,2,5,1,0,0,0,0,0,0,0,0,0,0]
];

const MONO = '"DejaVu Sans Mono", "Liberation Mono", monospace';
const SANS = '"Liberation Sans", Arial, sans-serif';

function pts(arr: (number | null)[]) {
  return arr.map((v, i) => ({ x: i * STEP_HOURS, y: v }));
}

const decorPlugin = {
  id: 'decor',
  afterDatasetsDraw(chart: any) {
    const ctx = chart.ctx;
    ctx.save();
    ctx.fillStyle = '#000';
    ctx.textBaseline = 'middle';
    ctx.textAlign = 'left';
    ctx.font = `10px ${MONO}`;
    ctx.fillText('Temp. 850hPa', 60, 77);
    ctx.fillText('Temp. 500hPa', 60, 275);
    ctx.fillText('Précipitations', 60, 536);
    ctx.restore();
  },
  afterDraw(chart: any) {
    const ctx = chart.ctx;
    ctx.save();
    ctx.fillStyle = '#000';
    ctx.textBaseline = 'middle';
    ctx.textAlign = 'left';
    ctx.font = `10px ${MONO}`;
    ctx.fillText('(°C)', 20, 607);
    ctx.fillText('(mm)', 710, 607);
    ctx.fillStyle = '#ff0000';
    ctx.fillRect(35, 635, 31, 4);
    ctx.fillStyle = '#0000ff';
    ctx.fillRect(225, 635, 31, 4);
    ctx.fillStyle = '#000000';
    ctx.fillRect(225, 645, 31, 4);
    ctx.fillText('Moyenne des scénarios', 75, 638);
    ctx.fillText('Run de contrôle', 265, 638);
    ctx.fillText('Run CEP/ECMWF', 265, 647);
    ctx.fillText('50 Perts.', 370, 652);
    ctx.textAlign = 'center';
    ctx.font = `bold 8px ${MONO}`;
    for (let k = 0; k < 25; k++) {
      const x = Math.round(430 + k * 12.04);
      ctx.fillStyle = MEMBER_COLORS[k];
      ctx.fillRect(x, 645, 11, 6);
      ctx.fillStyle = MEMBER_COLORS[k + 25];
      ctx.fillRect(x, 652, 11, 6);
      ctx.fillStyle = '#000';
      ctx.fillText(String(k + 1).padStart(2, '0'), x + 5.5, 640);
      ctx.fillText(String(k + 26), x + 5.5, 663);
    }
    ctx.strokeStyle = '#000';
    ctx.lineWidth = 1;
    ctx.strokeRect(20.5, 667.5, 420, 40);
    ctx.textAlign = 'left';
    ctx.font = `bold 11.6px ${MONO}`;
    ctx.fillText('Diagramme ensembles ECMWF/CEP 0.25° sur 360h pour Lyon', 29, 677);
    ctx.fillText('Copyright 2024 Meteociel.fr - ECMWF', 449, 692);
    ctx.font = `10px ${MONO}`;
    ctx.fillText('Températures 850hPa et 500hPa (°C) , précipitations (mm)', 29, 692);
    ctx.fillText('Ensemble ECMWF/CEP du 29/08/2024 - 00Z', 449, 676);
    ctx.restore();
  }
};

export default function App() {
  const ref = useRef<HTMLCanvasElement | null>(null);
  useEffect(() => {
    if (!ref.current) return;
    const main = (data: (number | null)[], color: string, width: number, axis: string) => ({
      data: pts(data), borderColor: color, backgroundColor: color, borderWidth: width,
      pointRadius: 0, tension: 0, fill: false, spanGaps: false, yAxisID: axis
    });
    const member = (data: (number | null)[], color: string, axis: string) => ({
      data: pts(data), borderColor: color, backgroundColor: color, borderWidth: 1,
      pointRadius: 2, pointStyle: 'cross', pointBorderWidth: 1, pointBorderColor: color,
      tension: 0, fill: false, spanGaps: false, yAxisID: axis
    });
    const datasets: any[] = [
      main(T850_MEAN, '#ff0000', 5, 'y'),
      main(T500_MEAN, '#ff0000', 5, 'y'),
      main(PRECIP_MEAN, '#ff0000', 5, 'yR'),
      main(T850_CEP, '#000000', 3, 'y'),
      main(T500_CEP, '#000000', 3, 'y'),
      main(PRECIP_CEP, '#000000', 3, 'yR'),
      main(T850_CTRL, '#0000ff', 3, 'y'),
      main(T500_CTRL, '#0000ff', 3, 'y'),
      main(PRECIP_CTRL, '#0000ff', 3, 'yR'),
    ];
    MEMBER_IDS.forEach((id, k) => {
      const c = MEMBER_COLORS[id - 1];
      datasets.push(member(T850_MEMBERS[k], c, 'y'));
      datasets.push(member(T500_MEMBERS[k], c, 'y'));
      datasets.push(member(PRECIP_MEMBERS[k], c, 'yR'));
    });
    const chart = new Chart(ref.current, {
      type: 'line',
      data: { datasets },
      options: {
        animation: false,
        responsive: false,
        maintainAspectRatio: false,
        events: [],
        layout: { padding: { left: 19, right: 0, top: 0, bottom: 0 }, autoPadding: false },
        plugins: { legend: { display: false }, tooltip: { enabled: false }, title: { display: false } },
        scales: {
          x: {
            type: 'linear', position: 'bottom', min: 0, max: 360,
            afterFit: (s: any) => { s.height = 100; s.paddingLeft = 0; s.paddingRight = 0; },
            afterBuildTicks: (s: any) => { s.ticks = DATE_LABELS.map((_, k) => ({ value: k * 24 })); },
            ticks: {
              autoSkip: false, maxRotation: 90, minRotation: 90, padding: 3, labelOffset: 6,
              color: '#000', font: { family: MONO, size: 10 },
              callback: (v: any) => DATE_LABELS[Math.round(Number(v) / 24)] ?? ''
            },
            grid: { color: '#c0c0c0', lineWidth: 1, drawTicks: false },
            border: { display: true, color: '#606060', width: 1 }
          },
          y: {
            type: 'linear', position: 'left', min: -52.7, max: 33,
            afterFit: (s: any) => { s.width = 31; s.paddingTop = 0; s.paddingBottom = 0; },
            afterBuildTicks: (s: any) => { s.ticks = T_TICKS.map(v => ({ value: v })); },
            ticks: { padding: 4, crossAlign: 'far', color: '#000', font: { family: SANS, size: 11 }, callback: (v: any) => String(v) },
            grid: { color: '#c0c0c0', lineWidth: (c: any) => (c.tick && c.tick.value % 10 === 0 ? 2 : 1), drawTicks: false },
            border: { display: false }
          },
          yR: {
            type: 'linear', position: 'right', min: -7.7, max: 78,
            afterFit: (s: any) => { s.width = 50; s.paddingTop = 0; s.paddingBottom = 0; },
            afterBuildTicks: (s: any) => { s.ticks = MM_TICKS.map(v => ({ value: v })); },
            ticks: { padding: 19, color: '#000', font: { family: SANS, size: 11 }, callback: (v: any) => String(v) },
            grid: { display: false, drawTicks: false },
            border: { display: false }
          }
        }
      } as any,
      plugins: [decorPlugin]
    });
    return () => chart.destroy();
  }, []);
  return (
    <div style={{ width: 740, height: 700, background: '#fff' }}>
      <style>{'body{margin:0;background:#fff}'}</style>
      <canvas ref={ref} width={740} height={700} style={{ display: 'block' }} />
    </div>
  );
}
